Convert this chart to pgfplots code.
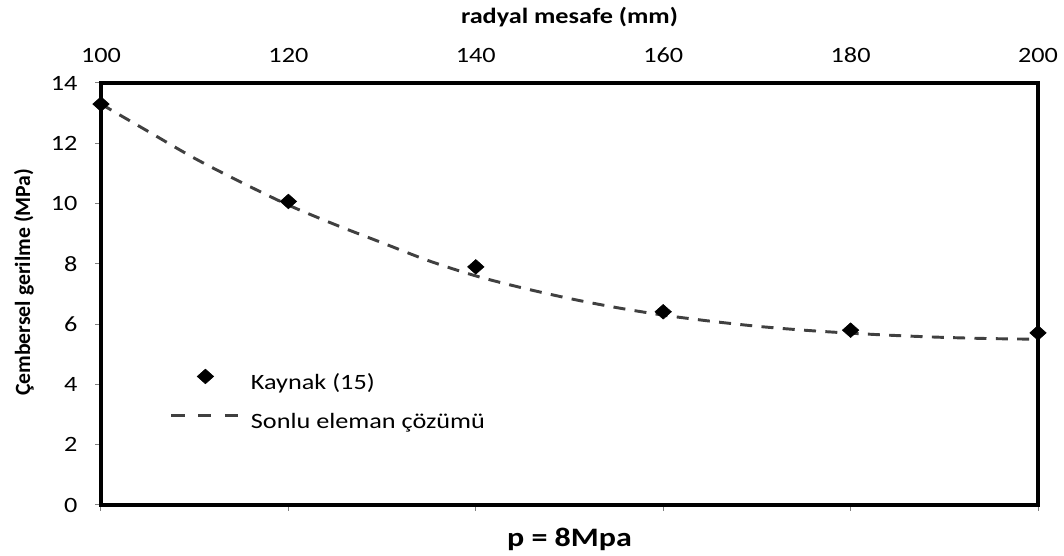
\documentclass[border=0pt]{standalone}
\usepackage{pgfplots}
\pgfplotsset{compat=1.18}
\usepackage{fontspec}
\setmainfont{Carlito}[FakeStretch=1.2]
\newfontfamily\ylfont{Carlito}
\definecolor{curvegray}{HTML}{404040}
\pgfplotsset{
  markleg/.style={legend image code/.code={\draw[##1] plot coordinates {(25.5pt,0.35em)};}},
  lineleg/.style={legend image code/.code={\draw[##1, dash pattern=on 10pt off 10pt] (0pt,0.35em) -- (51pt,0.35em);}},
}

\begin{document}
\fontsize{16.4}{19}\selectfont
\begin{tikzpicture}
\begin{axis}[
    scale only axis,
    width=702.75pt, height=316.5pt,
    xmin=100, xmax=200, ymin=0, ymax=14,
    xtick={100,120,...,200}, ytick={0,2,...,14},
    xtick pos=lower, xticklabel pos=upper,
    ytick pos=left,
    tick align=outside, major tick length=4.5pt,
    every tick/.style={gray, line width=0.75pt},
    axis line style={line width=1pt, black},
    /pgf/number format/assume math mode=true,
    tick label style={font=\fontsize{16.4}{19}\selectfont},
    xticklabel style={yshift=5pt},
    yticklabel style={xshift=-7.5pt},
    clip=false,
    legend style={draw=none, fill=none, inner sep=0pt, outer sep=0pt,
        at={(rel axis cs:0.0736,0.322)}, anchor=north west,
        font=\fontsize{16.4}{19}\selectfont,
        nodes={text height=11pt, text depth=3pt, inner sep=0pt},
        row sep=15pt, column sep=7.5pt},
    legend cell align=left,
]
% thick plot-area frame
\draw[line width=3.2pt, black] (rel axis cs:0,0) rectangle (rel axis cs:1,1);
% Kaynak (15)
\addplot[only marks, mark=diamond*, mark size=5.5pt, color=black,
    mark options={xscale=1.5}, markleg]
  coordinates {(100,13.3) (120,10.07) (140,7.9) (160,6.41) (180,5.8) (200,5.71)};
\addlegendentry{Kaynak (15)}
% Sonlu eleman cozumu
\addplot[smooth, no marks, color=curvegray, line width=2.2pt,
    dash pattern=on 9pt off 7pt, lineleg]
  coordinates {(100,13.3) (105,12.4) (110,11.5) (115,10.7) (120,9.95) (125,9.3)
    (130,8.7) (135,8.1) (140,7.6) (145,7.2) (150,6.85) (155,6.55) (160,6.3)
    (165,6.1) (170,5.93) (175,5.8) (180,5.7) (185,5.62) (190,5.56) (195,5.52) (200,5.5)};
\addlegendentry{Sonlu eleman çözümü}
\node[font=\bfseries\fontsize{16.4}{19}\selectfont] at (rel axis cs:0.5,1) [yshift=49.5pt] {radyal mesafe (mm)};
\node[font=\bfseries\fontsize{20}{24}\selectfont] at (rel axis cs:0.5,0) [yshift=-25.5pt] {p = 8Mpa};
\node[font=\ylfont\bfseries\fontsize{16.3}{19}\selectfont, xshift=-57.75pt, rotate=90] at (rel axis cs:0,0.528) {Çembersel gerilme (MPa)};
\end{axis}
\pgfresetboundingbox
\path[use as bounding box] (-75.75pt,-38.25pt) rectangle (722.25pt,378.75pt);
\end{tikzpicture}
\end{document}
